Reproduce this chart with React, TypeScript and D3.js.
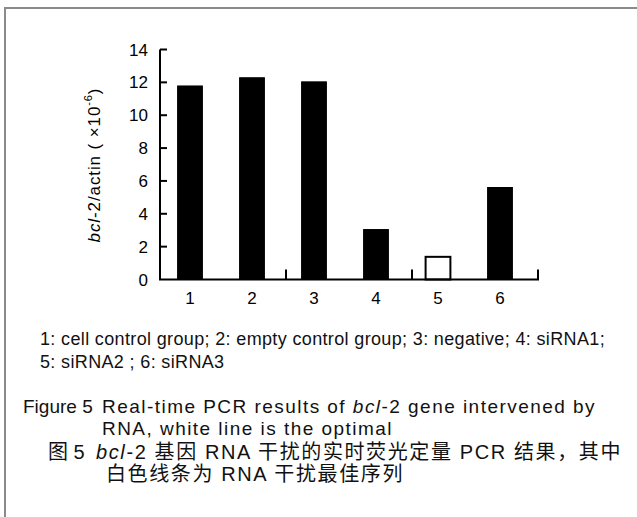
import React, { useEffect, useRef } from 'react'
import * as d3 from 'd3'

const groups = ['1', '2', '3', '4', '5', '6']
const ratios = [11.78, 12.28, 12.03, 3.04, 1.38, 5.6]
const optimal = ['5']
const yTicks = [0, 2, 4, 6, 8, 10, 12, 14]
const boundaryTicks = [2, 4, 6]
const legendLines = [
  '1: cell control group; 2: empty control group; 3: negative; 4: siRNA1;',
  '5: siRNA2 ; 6: siRNA3',
]

const W = 637
const H = 517
const FONT = '"Liberation Sans", Arial, sans-serif'
const MIXED = '"Liberation Sans", "Noto Sans CJK SC", sans-serif'

// spread letters so that a reference line gets the printed width
function fitSpacing(t: d3.Selection<SVGTextElement, any, any, any>, width: number) {
  const node = t.node() as SVGTextElement
  const w = node.getComputedTextLength()
  const n = (node.textContent || '').length
  return n > 1 ? (width - w) / n : 0
}

export default function App() {
  const ref = useRef<SVGSVGElement | null>(null)

  useEffect(() => {
    const svg = d3.select(ref.current)
    svg.selectAll('*').remove()

    // frame (only top and left edges show in the figure)
    svg.append('path')
      .attr('d', `M5,${H} L5,8 L${W},8`)
      .attr('fill', 'none')
      .attr('stroke', '#8a8a8a')
      .attr('stroke-width', 2)

    const y = d3.scaleLinear().domain([0, 14]).range([279.5, 49.5])
    const x = d3.scaleBand().domain(groups).range([159, 531]).paddingInner(0.6).paddingOuter(0.3)
    const xb = d3.scaleLinear().domain([0, 6]).range([160, 538])

    const g = svg.append('g')

    // bars
    g.selectAll('rect.bar')
      .data(groups.map((k, i) => ({ k, v: ratios[i] })))
      .join('rect')
      .attr('class', 'bar')
      .attr('x', (d) => x(d.k)!)
      .attr('width', x.bandwidth())
      .attr('y', (d) => y(d.v))
      .attr('height', (d) => y(0) - y(d.v))
      .attr('fill', (d) => (optimal.includes(d.k) ? '#fff' : '#000'))
      .attr('stroke', '#000')
      .attr('stroke-width', (d) => (optimal.includes(d.k) ? 2 : 1))

    // y axis, ticks point inward
    const yAxis = g.append('g')
    yAxis.append('line')
      .attr('x1', 160).attr('x2', 160)
      .attr('y1', y(0)).attr('y2', y(14))
      .attr('stroke', '#000').attr('stroke-width', 2)
    yAxis.selectAll('line.tick')
      .data(yTicks.filter((t) => t > 0))
      .join('line')
      .attr('class', 'tick')
      .attr('x1', 160).attr('x2', 167)
      .attr('y1', (d) => y(d)).attr('y2', (d) => y(d))
      .attr('stroke', '#000').attr('stroke-width', 2)
    yAxis.selectAll('text')
      .data(yTicks)
      .join('text')
      .attr('x', 148)
      .attr('y', (d) => y(d))
      .attr('dy', '0.36em')
      .attr('text-anchor', 'end')
      .attr('font-family', FONT)
      .attr('font-size', 17)
      .text((d) => d)

    // x axis with boundary ticks going up
    g.append('line')
      .attr('x1', 159).attr('x2', xb(6) + 1)
      .attr('y1', y(0)).attr('y2', y(0))
      .attr('stroke', '#000').attr('stroke-width', 2)
    g.selectAll('line.xtick')
      .data(boundaryTicks)
      .join('line')
      .attr('class', 'xtick')
      .attr('x1', (d) => xb(d)).attr('x2', (d) => xb(d))
      .attr('y1', y(0)).attr('y2', y(0) - 10)
      .attr('stroke', '#000').attr('stroke-width', 2)
    g.selectAll('text.xlab')
      .data(groups)
      .join('text')
      .attr('class', 'xlab')
      .attr('x', (d) => x(d)! + x.bandwidth() / 2)
      .attr('y', 304)
      .attr('text-anchor', 'middle')
      .attr('font-family', FONT)
      .attr('font-size', 17)
      .text((d) => d)

    // y title
    const yt = g.append('text')
      .attr('transform', 'translate(100,165) rotate(-90)')
      .attr('text-anchor', 'middle')
      .attr('font-family', FONT)
      .attr('font-size', 17)
      .attr('letter-spacing', 0.9)
    yt.append('tspan').attr('font-style', 'italic').text('bcl')
    yt.append('tspan').text('-2/actin ( ×10')
    yt.append('tspan').attr('font-size', 11).attr('dy', -8).text('-6')
    yt.append('tspan').attr('dy', 8).text(')')

    // legend lines
    const legend = svg.selectAll('text.legend')
      .data(legendLines)
      .join('text')
      .attr('class', 'legend')
      .attr('x', 40)
      .attr('y', (d, i) => 345 + i * 23)
      .attr('font-family', FONT)
      .attr('font-size', 18)
      .attr('fill', '#111')
      .text((d) => d)
    const lsLeg = fitSpacing(d3.select(legend.nodes()[0] as SVGTextElement), 565)
    legend.attr('letter-spacing', lsLeg)

    // English caption
    const cap = svg.append('g').attr('font-family', FONT).attr('font-size', 19).attr('fill', '#111')
    cap.append('text').attr('x', 23).attr('y', 413).text('Figure 5')
    const l1 = cap.append('text').attr('x', 102).attr('y', 413)
    l1.append('tspan').text('Real-time PCR results of ')
    l1.append('tspan').attr('font-style', 'italic').text('bcl')
    l1.append('tspan').text('-2 gene intervened by')
    const l2 = cap.append('text').attr('x', 102).attr('y', 435).text('RNA, white line is the optimal')
    const lsCap = fitSpacing(l1, 494)
    ;[l1, l2].forEach((t) => t.attr('letter-spacing', lsCap))

    // Chinese caption
    const zh = svg.append('g').attr('font-family', MIXED).attr('font-size', 20).attr('fill', '#111')
    zh.append('text').attr('x', 48).attr('y', 459).text('图 5')
    const z1 = zh.append('text').attr('x', 96).attr('y', 459)
    z1.append('tspan').attr('font-style', 'italic').text('bcl')
    z1.append('tspan').text('-2 基因 RNA 干扰的实时荧光定量 PCR 结果，其中')
    const z2 = zh.append('text').attr('x', 106).attr('y', 481).text('白色线条为 RNA 干扰最佳序列')
    const lsZh = fitSpacing(z1, 526)
    ;[z1, z2].forEach((t) => t.attr('letter-spacing', lsZh))
  }, [])

  return (
    <svg
      ref={ref}
      width={W}
      height={H}
      style={{ position: 'absolute', left: 0, top: 0, background: '#fff' }}
    />
  )
}
